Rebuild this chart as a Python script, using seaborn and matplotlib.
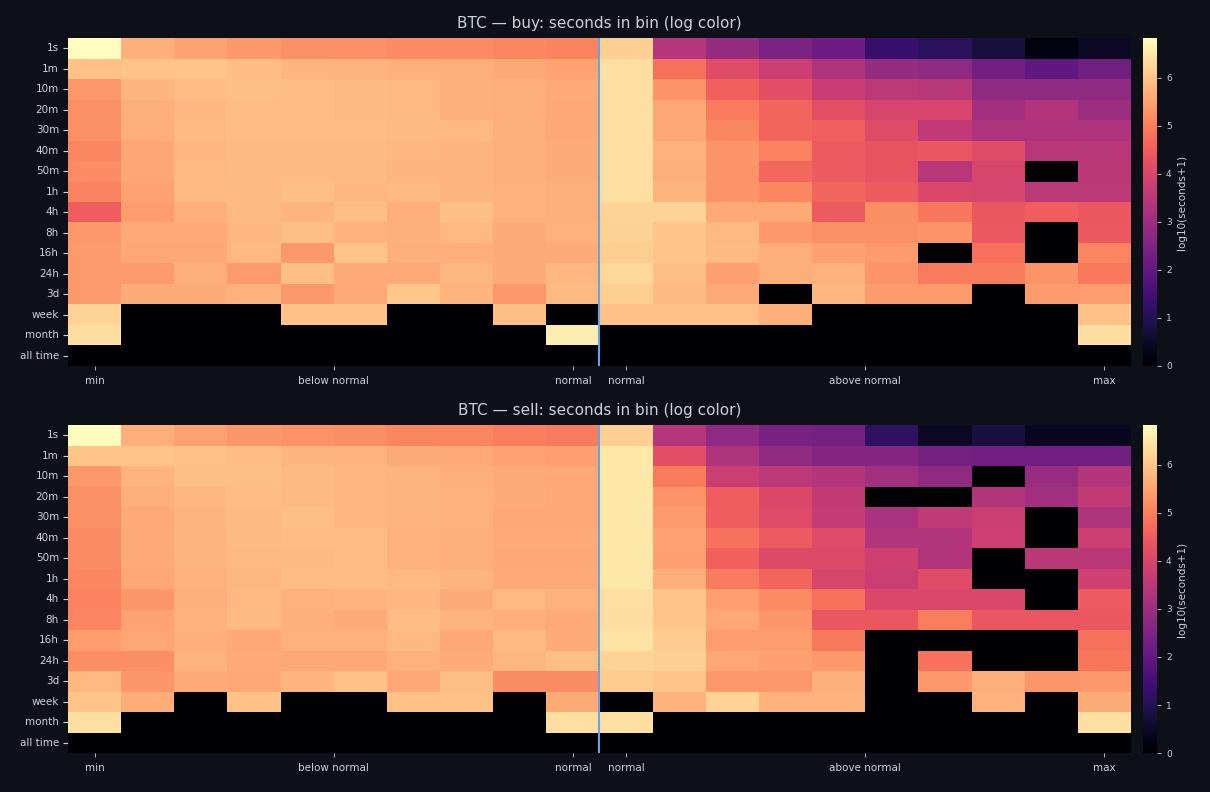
import matplotlib
matplotlib.use("Agg")
import matplotlib.pyplot as plt
import numpy as np
import pandas as pd
import seaborn as sns

# Rows = holding duration bins, columns = price-position bins
durations = ["1s", "1m", "10m", "20m", "30m", "40m", "50m", "1h", "4h", "8h",
             "16h", "24h", "3d", "week", "month", "all time"]
n_below = 10
n_above = 10
tick_pos = [0.5, 5, 9.5, 10.5, 15, 19.5]
tick_labels = ["min", "below normal", "normal", "normal", "above normal", "max"]

# log10(seconds+1)
buy_below = [
    [6.83, 5.70, 5.50, 5.35, 5.25, 5.25, 5.15, 5.15, 5.10, 5.05],
    [5.95, 6.00, 5.98, 5.88, 5.78, 5.75, 5.70, 5.68, 5.60, 5.50],
    [5.35, 5.78, 5.88, 5.92, 5.88, 5.85, 5.82, 5.70, 5.68, 5.62],
    [5.25, 5.68, 5.80, 5.88, 5.88, 5.85, 5.82, 5.70, 5.68, 5.60],
    [5.25, 5.68, 5.82, 5.88, 5.88, 5.88, 5.85, 5.82, 5.70, 5.60],
    [5.10, 5.55, 5.80, 5.85, 5.85, 5.85, 5.80, 5.75, 5.70, 5.65],
    [5.20, 5.55, 5.82, 5.85, 5.85, 5.85, 5.78, 5.75, 5.70, 5.65],
    [5.05, 5.52, 5.82, 5.82, 5.90, 5.80, 5.82, 5.78, 5.72, 5.68],
    [4.50, 5.42, 5.70, 5.85, 5.75, 5.92, 5.68, 5.93, 5.72, 5.68],
    [5.35, 5.62, 5.62, 5.80, 5.92, 5.72, 5.70, 5.82, 5.65, 5.72],
    [5.38, 5.60, 5.60, 5.82, 5.35, 5.98, 5.68, 5.68, 5.65, 5.65],
    [5.38, 5.40, 5.68, 5.38, 5.90, 5.62, 5.62, 5.80, 5.65, 5.80],
    [5.38, 5.65, 5.65, 5.72, 5.35, 5.62, 6.02, 5.75, 5.35, 5.85],
    [6.20, 0, 0, 0, 5.95, 5.95, 0, 0, 5.92, 0],
    [6.35, 0, 0, 0, 0, 0, 0, 0, 0, 6.60],
    [0, 0, 0, 0, 0, 0, 0, 0, 0, 0],
]
buy_above = [
    [6.15, 3.40, 2.90, 2.45, 2.20, 1.35, 1.12, 0.75, 0.20, 0.45],
    [6.40, 4.80, 4.15, 3.75, 3.30, 2.88, 2.75, 2.28, 2.00, 2.25],
    [6.40, 5.30, 4.55, 4.20, 3.72, 3.50, 3.45, 2.75, 2.75, 2.75],
    [6.40, 5.58, 4.95, 4.60, 4.22, 4.00, 4.00, 3.10, 3.35, 3.00],
    [6.40, 5.58, 5.10, 4.62, 4.52, 4.15, 3.55, 3.28, 3.28, 3.28],
    [6.40, 5.72, 5.30, 5.05, 4.48, 4.30, 4.35, 4.15, 3.42, 3.42],
    [6.40, 5.68, 5.30, 4.65, 4.45, 4.30, 3.42, 3.98, 0, 3.48],
    [6.40, 5.75, 5.30, 5.12, 4.62, 4.48, 4.05, 4.00, 3.50, 3.50],
    [6.20, 6.20, 5.62, 5.62, 4.48, 5.22, 4.90, 4.38, 4.50, 4.40],
    [6.18, 6.00, 5.82, 5.35, 5.25, 5.25, 5.30, 4.42, 0, 4.42],
    [6.12, 5.98, 5.85, 5.68, 5.48, 5.38, 0, 4.80, 0, 5.08],
    [6.25, 5.92, 5.48, 5.68, 5.72, 5.30, 4.95, 4.95, 5.30, 4.93],
    [6.12, 5.85, 5.62, 0, 5.80, 5.40, 5.40, 0, 5.40, 5.42],
    [5.95, 5.95, 5.95, 5.68, 0, 0, 0, 0, 0, 5.95],
    [0, 0, 0, 0, 0, 0, 0, 0, 0, 6.35],
    [0, 0, 0, 0, 0, 0, 0, 0, 0, 0],
]
sell_below = [
    [6.83, 5.68, 5.50, 5.32, 5.27, 5.22, 5.10, 5.10, 4.98, 4.95],
    [5.98, 6.00, 5.95, 5.88, 5.78, 5.75, 5.65, 5.62, 5.52, 5.45],
    [5.35, 5.75, 5.92, 5.90, 5.85, 5.80, 5.75, 5.68, 5.62, 5.60],
    [5.25, 5.68, 5.80, 5.88, 5.85, 5.80, 5.78, 5.72, 5.65, 5.60],
    [5.25, 5.62, 5.78, 5.85, 5.90, 5.80, 5.78, 5.72, 5.60, 5.58],
    [5.20, 5.62, 5.75, 5.85, 5.88, 5.88, 5.72, 5.68, 5.62, 5.62],
    [5.20, 5.62, 5.75, 5.82, 5.85, 5.88, 5.72, 5.68, 5.60, 5.60],
    [5.10, 5.60, 5.72, 5.80, 5.88, 5.88, 5.82, 5.75, 5.62, 5.62],
    [5.05, 5.32, 5.70, 5.82, 5.72, 5.75, 5.80, 5.65, 5.82, 5.72],
    [5.08, 5.52, 5.72, 5.85, 5.70, 5.62, 5.88, 5.75, 5.68, 5.62],
    [5.42, 5.55, 5.68, 5.60, 5.72, 5.72, 5.82, 5.60, 5.82, 5.62],
    [5.22, 5.22, 5.75, 5.62, 5.58, 5.58, 5.72, 5.65, 5.80, 5.90],
    [5.82, 5.32, 5.62, 5.60, 5.78, 5.95, 5.58, 5.92, 5.20, 5.20],
    [5.98, 5.68, 0, 5.95, 0, 0, 5.95, 5.95, 0, 5.62],
    [6.38, 0, 0, 0, 0, 0, 0, 0, 0, 6.38],
    [0, 0, 0, 0, 0, 0, 0, 0, 0, 0],
]
sell_above = [
    [6.15, 3.40, 2.75, 2.42, 2.32, 1.20, 0.45, 0.80, 0.42, 0.42],
    [6.50, 4.20, 3.30, 2.78, 2.60, 2.60, 2.32, 2.25, 2.25, 2.25],
    [6.50, 4.95, 3.75, 3.50, 3.38, 3.08, 2.78, 0, 2.92, 3.38],
    [6.50, 5.30, 4.50, 4.08, 3.62, 0, 0, 3.35, 3.10, 3.62],
    [6.50, 5.38, 4.50, 4.12, 3.65, 3.18, 3.58, 3.75, 0, 3.30],
    [6.50, 5.52, 4.82, 4.45, 4.12, 3.35, 3.35, 3.80, 0, 3.78],
    [6.50, 5.48, 4.55, 4.10, 4.10, 3.82, 3.35, 0, 3.48, 3.48],
    [6.50, 5.68, 4.95, 4.62, 3.95, 3.75, 4.15, 0, 0, 3.85],
    [6.40, 6.00, 5.45, 5.15, 4.80, 4.05, 4.05, 4.05, 0, 4.45],
    [6.35, 5.98, 5.58, 5.32, 4.40, 4.40, 4.97, 4.40, 4.40, 4.40],
    [6.45, 6.10, 5.42, 5.42, 4.92, 0, 0, 0, 0, 4.80],
    [6.20, 6.15, 5.58, 5.48, 5.35, 0, 4.82, 0, 0, 4.87],
    [6.10, 6.00, 5.35, 5.35, 5.70, 0, 5.35, 5.68, 5.32, 5.35],
    [0, 5.72, 6.20, 5.72, 5.72, 0, 0, 5.72, 0, 5.65],
    [6.40, 0, 0, 0, 0, 0, 0, 0, 0, 6.38],
    [0, 0, 0, 0, 0, 0, 0, 0, 0, 0],
]

bg = "#0d1117"
fg = "#c9d1d9"

sns.set_theme(style="dark")
plt.rcParams["font.family"] = ["DejaVu Sans"]

fig = plt.figure(figsize=(12.1, 7.92), dpi=100, facecolor=bg)

panels = [
    ("BTC \u2014 buy: seconds in bin (log color)", buy_below, buy_above, 0.5379),
    ("BTC \u2014 sell: seconds in bin (log color)", sell_below, sell_above, 0.0492),
]

for title, below, above, y0 in panels:
    ax = fig.add_axes([0.0562, y0, 0.8785, 0.4141])
    cax = fig.add_axes([0.9446, y0, 0.0116, 0.4141])
    df = pd.DataFrame(np.hstack([np.array(below), np.array(above)]), index=durations)
    sns.heatmap(df, ax=ax, cbar_ax=cax, cmap="magma", vmin=0,
                cbar_kws={"label": "log10(seconds+1)"})
    ax.set_facecolor(bg)
    ax.axvline(n_below, color="#58a6ff", lw=1.5)
    ax.set_xticks(tick_pos)
    ax.set_xticklabels(tick_labels, rotation=0, fontsize=7.5, color=fg)
    ax.set_yticks(np.arange(len(durations)) + 0.5)
    ax.set_yticklabels(durations, rotation=0, fontsize=7.5, color=fg)
    ax.tick_params(axis="y", left=True, colors=fg, length=3.5, width=0.8, pad=3)
    ax.tick_params(axis="x", bottom=True, colors=fg, length=3, width=0.6, pad=4)
    ax.set_title(title, color=fg, fontsize=11, pad=7)
    ax.set_xlabel("")
    ax.set_ylabel("")
    cax.tick_params(right=True, colors=fg, labelsize=6.5, length=3, width=0.6)
    cax.yaxis.label.set_color(fg)
    cax.yaxis.label.set_fontsize(7.5)
    cax.set_facecolor(bg)

fig.savefig("out.png", dpi=100, facecolor=bg)
